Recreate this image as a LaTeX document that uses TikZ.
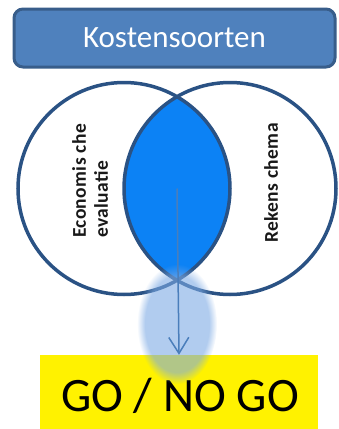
\documentclass[tikz,border=0pt]{standalone}
\usepackage{fontspec}
\setmainfont{Carlito}
\newfontfamily\spacedfont[LetterSpace=2]{Carlito}
\usetikzlibrary{arrows.meta,fadings}
\definecolor{hdrfill}{RGB}{79,129,189}
\definecolor{hdrline}{RGB}{56,93,138}
\definecolor{ringline}{RGB}{42,82,132}
\definecolor{lensfill}{RGB}{12,130,245}
\definecolor{arrowc}{RGB}{74,126,187}
\definecolor{glowc}{RGB}{125,170,228}
\begin{document}
\begin{tikzpicture}[x=1pt,y=-1pt,
  header/.style={draw=hdrline, line width=3pt, fill=hdrfill, rounded corners=9pt,
    minimum width=321pt, minimum height=58pt, inner sep=0pt, text=white,
    font=\fontsize{31}{36}\selectfont},
  ring/.style={draw=ringline, line width=3.5pt},
  rottext/.style={rotate=90, font=\spacedfont\bfseries\fontsize{19.5}{22}\selectfont, text=black!90, align=left, inner sep=0pt},
  gobox/.style={fill=yellow, minimum width=278pt, minimum height=74pt, inner sep=0pt,
    font=\fontsize{48}{52}\selectfont},
  link/.style={draw=arrowc, line width=1.5pt, -{Straight Barb[length=16pt,width=20pt,line width=1.5pt]}}]
\useasboundingbox (0,0) rectangle (339,429);
% header
\node[header] (hdr) at (174.5,38) {Kostensoorten};
% lens fill
\begin{scope}
  \clip (124,188.5) circle [radius=106];
  \fill[lensfill] (230,188.5) circle [radius=106];
\end{scope}
% circles
\draw[ring] (124,188.5) circle [radius=106];
\draw[ring] (230,188.5) circle [radius=106];
\coordinate (lens) at (177,188.5);
% labels
\node[rottext] (econ) at (90,181) {Economis che\\evaluatie};
\node[rottext] (reken) at (271,183) {Rekens chema};
% go box
\node[gobox] (go) at (179,392) {};
\node[font=\fontsize{48}{52}\selectfont, inner sep=0pt] (gotext) at (180,396) {GO / NO GO};
% glow
\fill[glowc, path fading=circle with fuzzy edge 20 percent, fill opacity=0.6] (177,324) ellipse [x radius=40, y radius=60];
% arrow
\draw[link] (lens) -- (go.north);
\end{tikzpicture}
\end{document}
